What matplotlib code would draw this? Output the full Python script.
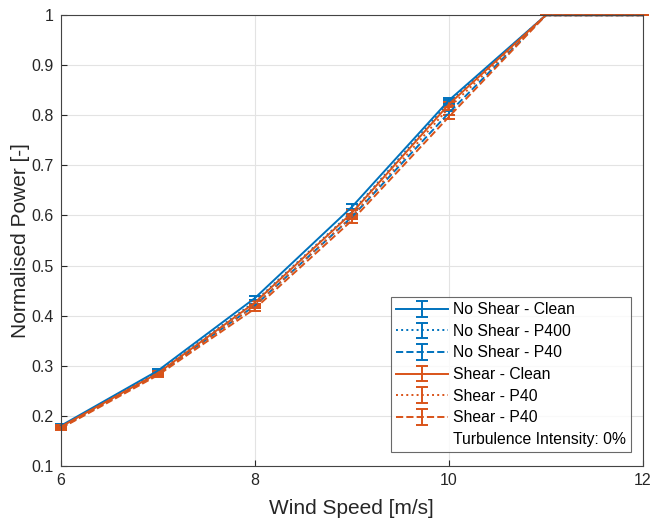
import numpy as np
import matplotlib
matplotlib.use('Agg')
import matplotlib.pyplot as plt
from matplotlib.lines import Line2D

plt.rcParams['font.family'] = ['Liberation Sans', 'DejaVu Sans']

wind_speed = [6, 7, 8, 9, 10, 11, 12]

# Normalised power per case
noshear_clean = [0.180, 0.290, 0.435, 0.617, 0.830, 1.0, 1.0]
noshear_p400 = [0.177, 0.287, 0.428, 0.607, 0.826, 1.0, 1.0]
noshear_p40 = [0.176, 0.284, 0.420, 0.597, 0.805, 1.0, 1.0]
shear_clean = [0.178, 0.285, 0.426, 0.605, 0.822, 1.0, 1.0]
shear_p40a = [0.177, 0.283, 0.420, 0.598, 0.815, 1.0, 1.0]
shear_p40b = [0.175, 0.281, 0.414, 0.590, 0.797, 1.0, 1.0]

# error bar half-widths
err_noshear_clean = [0.003, 0.004, 0.004, 0.006, 0.005, 0.0, 0.0]
err_noshear_p400 = [0.003, 0.003, 0.004, 0.005, 0.004, 0.0, 0.0]
err_noshear_p40 = [0.003, 0.003, 0.004, 0.005, 0.004, 0.0, 0.0]
err_shear_clean = [0.003, 0.004, 0.004, 0.006, 0.005, 0.0, 0.0]
err_shear_p40a = [0.003, 0.003, 0.004, 0.005, 0.004, 0.0, 0.0]
err_shear_p40b = [0.003, 0.003, 0.004, 0.005, 0.004, 0.0, 0.0]

labels = ['No Shear - Clean', 'No Shear - P400', 'No Shear - P40',
          'Shear - Clean', 'Shear - P40', 'Shear - P40']
blue = '#0072BD'
orange = '#D95319'

fig = plt.figure(figsize=(6.54, 5.24), dpi=100)
ax = fig.add_axes([0.093, 0.111, 0.890, 0.860])

series = [
    (noshear_clean, err_noshear_clean, blue, '-'),
    (noshear_p400, err_noshear_p400, blue, ':'),
    (noshear_p40, err_noshear_p40, blue, '--'),
    (shear_clean, err_shear_clean, orange, '-'),
    (shear_p40a, err_shear_p40a, orange, ':'),
    (shear_p40b, err_shear_p40b, orange, '--'),
]
handles = []
for (vals, err, col, ls), lab in zip(series, labels):
    h = ax.errorbar(wind_speed, vals, yerr=err, color=col, linestyle=ls,
                    linewidth=1.4, capsize=4, elinewidth=1.4, capthick=1.4,
                    label=lab)
    for art in h.lines[0:1] + tuple(h.lines[1]) + tuple(h.lines[2]):
        art.set_clip_on(False)
    handles.append(h)

dummy = Line2D([], [], color='none')
handles.append(dummy)
labels_all = labels + ['Turbulence Intensity: 0%']

ax.set_xlim(6, 12)
ax.set_ylim(0.1, 1.0)
ax.set_xticks([6, 8, 10, 12])
yt = np.round(np.arange(0.1, 1.01, 0.1), 1)
ax.set_yticks(yt)
ax.set_yticklabels([f'{v:g}' for v in yt])
ax.grid(True, color='#e3e3e3', linewidth=0.8)
ax.set_axisbelow(True)
ax.tick_params(direction='in', labelsize=11.5, colors='#262626', length=4,
               pad=5)
for s in ax.spines.values():
    s.set_color('#444444')
    s.set_linewidth(0.8)

ax.set_xlabel('Wind Speed [m/s]', fontsize=15, color='#262626', labelpad=8)
ax.set_ylabel('Normalised Power [-]', fontsize=15, color='#262626', labelpad=1)

leg = ax.legend(handles, labels_all, loc='lower right', fontsize=11.3,
                frameon=True, fancybox=False, edgecolor='#444444',
                borderpad=0.35, labelspacing=0.42, handlelength=3.3,
                handletextpad=0.3, borderaxespad=0,
                bbox_to_anchor=(0.98, 0.03))
leg.get_frame().set_linewidth(0.8)

fig.savefig('out.png', dpi=100)
